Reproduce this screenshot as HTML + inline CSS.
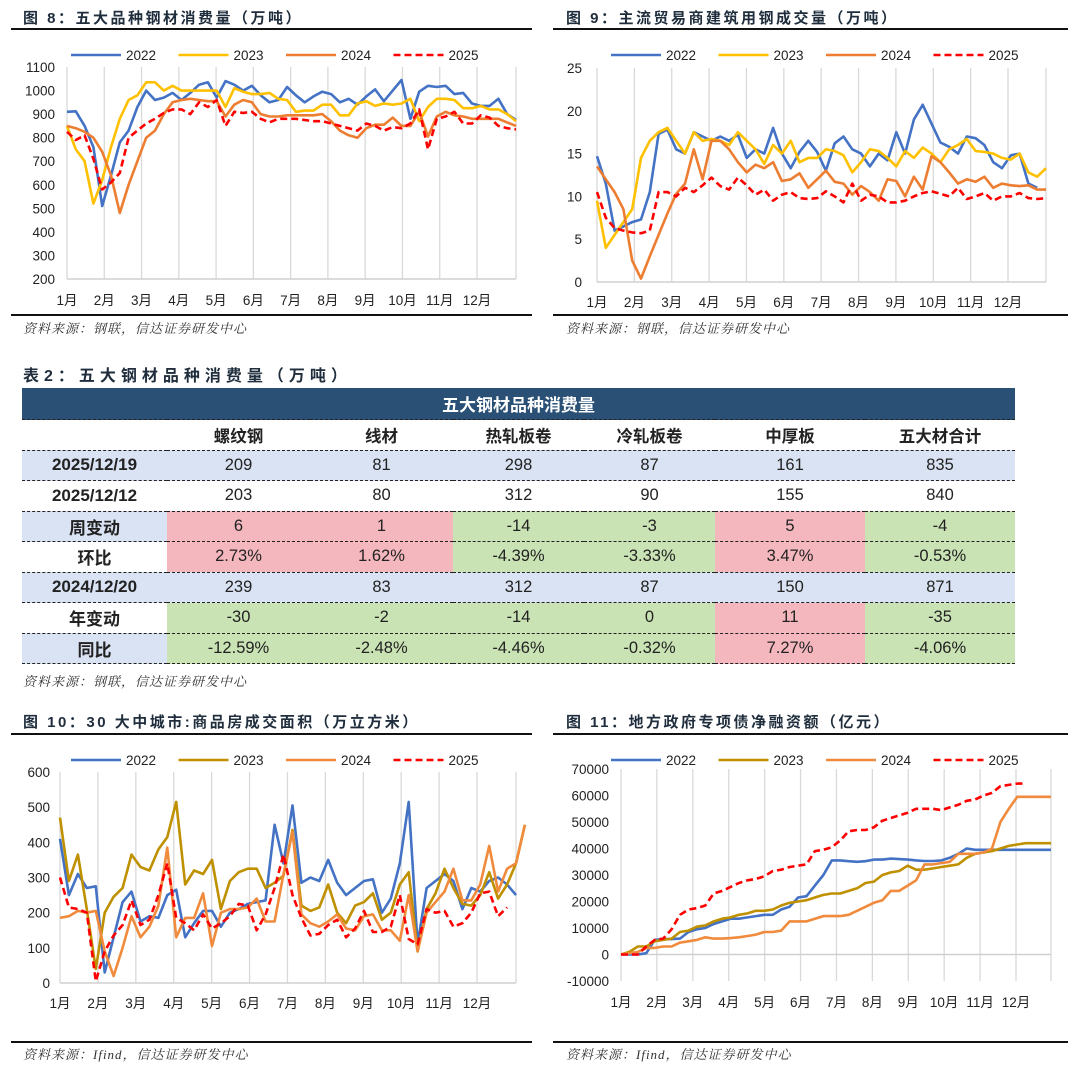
<!DOCTYPE html>
<html><head><meta charset="utf-8">
<style>
body{margin:0;background:#fff;width:1080px;height:1067px;position:relative;overflow:hidden;font-family:"Liberation Sans","Noto Sans CJK SC",sans-serif;color:#222}
.t{position:absolute;font-weight:bold;font-size:15px;letter-spacing:2.5px;color:#1f2d3d;white-space:nowrap;font-family:"Liberation Sans","Noto Sans CJK SC",sans-serif}
.src{position:absolute;font-style:italic;font-size:13px;letter-spacing:1px;color:#333;white-space:nowrap;font-family:"Liberation Serif","Noto Serif CJK SC",serif}
.hl{position:absolute;height:2px;background:#111}
table{position:absolute;left:22px;top:388px;border-collapse:collapse;font-family:"Liberation Sans","Noto Sans CJK SC",sans-serif}
td{height:29.5px;padding:0;text-align:center;font-size:16.5px;border-bottom:1.5px dashed #222}
.hd td{font-weight:bold}
.b{background:#dae3f3}.p{background:#f4b7bd}.g{background:#c9e3b4}
.lb{font-weight:bold;font-size:17px}
</style></head><body>
<div class="t" style="left:23px;top:7px">图 8：五大品种钢材消费量（万吨）</div>
<div class="hl" style="left:11px;top:28px;width:521px"></div>
<div class="hl" style="left:11px;top:314px;width:521px"></div>
<div class="src" style="left:23px;top:318px">资料来源：钢联，信达证券研发中心</div>

<div class="t" style="left:566px;top:7px">图 9：主流贸易商建筑用钢成交量（万吨）</div>
<div class="hl" style="left:553px;top:28px;width:515px"></div>
<div class="hl" style="left:553px;top:314px;width:515px"></div>
<div class="src" style="left:566px;top:318px">资料来源：钢联，信达证券研发中心</div>

<div class="t" style="left:23px;top:362px;font-size:16px;letter-spacing:5px">表2：五大钢材品种消费量（万吨）</div>
<table>
<tr><td colspan="7" style="background:#2a5075;color:#fff;font-weight:bold;font-size:17px;height:31px">五大钢材品种消费量</td></tr>
<tr class="hd"><td style="width:145px"></td><td style="width:143px">螺纹钢</td><td style="width:143px">线材</td><td style="width:131px">热轧板卷</td><td style="width:131px">冷轧板卷</td><td style="width:150px">中厚板</td><td style="width:150px">五大材合计</td></tr>
<tr class="b"><td class="lb">2025/12/19</td><td>209</td><td>81</td><td>298</td><td>87</td><td>161</td><td>835</td></tr>
<tr><td class="lb">2025/12/12</td><td>203</td><td>80</td><td>312</td><td>90</td><td>155</td><td>840</td></tr>
<tr><td class="lb b">周变动</td><td class="p">6</td><td class="p">1</td><td class="g">-14</td><td class="g">-3</td><td class="p">5</td><td class="g">-4</td></tr>
<tr><td class="lb">环比</td><td class="p">2.73%</td><td class="p">1.62%</td><td class="g">-4.39%</td><td class="g">-3.33%</td><td class="p">3.47%</td><td class="g">-0.53%</td></tr>
<tr class="b"><td class="lb">2024/12/20</td><td>239</td><td>83</td><td>312</td><td>87</td><td>150</td><td>871</td></tr>
<tr><td class="lb">年变动</td><td class="g">-30</td><td class="g">-2</td><td class="g">-14</td><td class="g">0</td><td class="p">11</td><td class="g">-35</td></tr>
<tr><td class="lb b">同比</td><td class="g">-12.59%</td><td class="g">-2.48%</td><td class="g">-4.46%</td><td class="g">-0.32%</td><td class="p">7.27%</td><td class="g">-4.06%</td></tr>
</table>
<div class="src" style="left:23px;top:671px">资料来源：钢联，信达证券研发中心</div>

<div class="t" style="left:23px;top:711px">图 10：30 大中城市:商品房成交面积（万立方米）</div>
<div class="hl" style="left:11px;top:733px;width:521px"></div>
<div class="hl" style="left:11px;top:1041px;width:521px"></div>
<div class="src" style="left:23px;top:1044px">资料来源：Ifind，信达证券研发中心</div>

<div class="t" style="left:566px;top:711px">图 11：地方政府专项债净融资额（亿元）</div>
<div class="hl" style="left:553px;top:733px;width:515px"></div>
<div class="hl" style="left:553px;top:1041px;width:515px"></div>
<div class="src" style="left:566px;top:1044px">资料来源：Ifind，信达证券研发中心</div>

<svg id="cv" width="1080" height="1067" style="position:absolute;left:0;top:0"></svg>
<script>
const months=["1月","2月","3月","4月","5月","6月","7月","8月","9月","10月","11月","12月"];
const years=["2022","2023","2024","2025"];
const f8Ticks=[200,300,400,500,600,700,800,900,1000,1100];
const f8_2022=[910,912,850,760,510,640,780,830,930,1000,960,970,990,960,990,1025,1035,970,1040,1025,1000,1020,980,950,960,1015,980,950,975,995,985,950,965,940,975,1005,955,1000,1045,880,995,1020,1015,1020,985,990,945,935,935,965,900,875];
const f8_2023=[850,750,700,520,620,760,880,960,980,1035,1035,1000,1020,1000,1000,1000,1000,1000,930,1010,995,985,985,990,965,960,910,915,915,940,940,895,895,945,955,935,945,940,945,965,870,930,965,965,960,925,925,935,920,920,900,870];
const f8_2024=[850,840,825,800,740,640,480,600,700,800,830,900,950,960,965,960,955,955,890,940,960,950,900,890,890,895,895,895,895,900,870,830,810,800,840,855,855,885,850,850,910,805,890,910,895,890,880,880,880,880,865,850];
const f8_2025=[825,790,810,710,580,610,650,800,830,860,880,905,920,920,900,950,930,960,850,910,905,910,880,865,880,880,880,875,870,870,860,850,840,830,860,850,830,845,840,860,920,750,880,890,910,860,860,895,885,850,840,835];
const f9Ticks=[0,5,10,15,20,25];
const f9_2022=[14.7,11.5,6,6.5,7,7.3,10.5,17.3,17.8,15.5,15,17.5,17,16.5,17,16.5,17.2,14.5,15.5,15,18,15,13.3,15.2,16.5,15.2,13,16.2,17,15.5,15,13.5,15,14.2,17.5,15,19,20.7,18.5,16.3,15.8,15,17,16.8,16,14,13.3,14.8,15,11.5,11];
const f9_2023=[9.5,4,5.5,7,8.5,14.5,16.5,17.5,18,16.5,15,17.5,16.5,16.7,16.5,16,17.5,16.5,15.5,13.8,16,15,16.5,14,14.5,14.5,15.5,15.3,14.8,12.8,14,15.5,15.3,14.5,13.5,15.3,14.5,15.7,15,14,15.5,16,16.7,15.3,15.2,15,14.5,14.3,15,12.8,12.3,13.3];
const f9_2024=[13.5,12,10.5,8.5,2.5,0.4,3,5.5,8,10.3,11.5,15.5,12,16.5,16.5,15.5,14,12.8,13.7,13.3,14,11.8,12,12.7,11,12,13,11.7,11.5,10.2,11.2,10.5,9.5,12,11.8,10,12.3,10.8,14.7,14,12.8,11.5,12,11.7,12.3,11,11.5,11.3,11.2,11.3,10.8,10.8];
const f9_2025=[10.5,7.5,6.3,6,5.8,5.7,6,10.5,10.5,10,11,10.5,11.3,12.2,11.2,10.8,12.2,11.3,10.2,10.8,9.5,10.2,10.5,9.8,9.7,9.8,10.6,10,9.3,11.5,9.5,10.2,10,9.3,9.3,9.5,10,10.4,10.6,10.3,10,11,9.7,10,10.4,9.5,10,10,10.4,9.8,9.7,9.8];
const f10Ticks=[0,100,200,300,400,500,600];
const f10_2022=[410,250,310,270,275,30,130,230,260,175,190,185,250,265,130,170,205,205,160,200,210,225,230,235,450,340,505,285,300,290,350,285,250,270,290,295,200,240,340,515,110,270,290,310,290,210,270,260,290,300,280,250];
const f10_2023=[470,290,365,210,40,200,245,270,365,330,320,380,415,515,280,320,310,350,210,290,315,325,325,270,285,305,435,220,205,215,280,200,170,220,230,255,180,200,280,315,90,210,255,325,270,225,220,250,315,240,280,340,450];
const f10_2024=[185,190,205,200,205,90,20,100,190,130,160,220,385,130,185,185,255,105,200,210,210,215,240,175,175,310,430,195,170,160,175,195,155,150,190,195,150,150,120,250,90,200,230,260,325,235,235,280,390,260,325,340,450];
const f10_2025=[300,215,210,200,5,90,135,165,235,165,180,250,340,185,170,150,195,155,170,190,225,220,150,195,270,365,250,185,135,140,165,180,130,155,205,145,145,160,250,125,110,210,200,205,160,170,200,255,260,190,215];
const f11Ticks=[-10000,0,10000,20000,30000,40000,50000,60000,70000];
const f11_2022=[0,0,0,500,5500,5800,5800,6000,8500,9500,10000,11500,12500,13500,13500,14000,14500,15000,15000,17000,18000,21500,22000,26000,30000,35500,35500,35200,35000,35200,35800,35800,36200,36000,35800,35500,35300,35300,35500,36500,38000,40000,39500,39500,39500,39500,39500,39500,39500,39500,39500,39500];
const f11_2023=[0,1000,3000,3000,5000,5500,6000,8500,9000,10500,11000,12500,13500,14000,15000,15500,16500,16500,17000,18500,19500,20000,20500,21500,22500,23000,23000,24000,25000,27000,27500,30000,31000,31500,33500,32000,32000,32500,33000,33500,34000,36500,38000,38500,39000,40000,41000,41500,42000,42000,42000,42000];
const f11_2024=[0,500,1000,2500,2500,3000,3000,4500,5000,5500,6500,6000,6000,6200,6500,7000,7500,8500,8500,9000,12500,12500,12500,13500,14500,14500,14500,15000,16500,18000,19500,20500,24000,24000,26000,28000,34000,34000,34500,35000,38000,38000,38000,38500,40000,50000,55000,59500,59500,59500,59500,59500];
const f11_2025=[0,0,0,3000,5500,6000,9500,15000,17000,17500,18500,23000,24000,25500,27000,28000,28500,29500,31500,32000,33000,33500,34000,39000,39500,40500,43000,46500,47000,47000,48000,50500,51500,52500,53500,55000,55000,55000,54500,55500,56500,58000,58500,60000,61000,63500,64000,64500,64500];

const NS="http://www.w3.org/2000/svg";
const svg=document.getElementById('cv');
function mk(tag,attrs){const e=document.createElementNS(NS,tag);for(const k in attrs)e.setAttribute(k,attrs[k]);svg.appendChild(e);return e;}

function chart(id,c,ticks,series,colors){
  const yS=v=>c.yb+(v-c.ymin)/(c.ymax-c.ymin)*(c.yt-c.yb);
  const mx=i=>c.x0+i*(c.x12-c.x0)/11;
  const wx=i=>c.x0+i*(c.xr-c.x0)/51;
  for(let i=0;i<=12;i++){
    const x=i<12?mx(i):c.xr;
    const g=mk('line',{x1:x,x2:x,y1:c.yt,y2:c.yb,stroke:'#d9d9d9','stroke-width':1.3});
    
    
  }
  const base=mk('line',{x1:c.x0,x2:c.xr,y1:yS(c.base),y2:yS(c.base),stroke:'#d0d0d0','stroke-width':1.5});
  
  
  ticks.forEach(v=>{
    const t=mk('text',{x:c.tx,y:yS(v)+5,'text-anchor':'end','font-size':13.5,fill:'#222','font-family':'Liberation Sans, sans-serif'});
    t.textContent=v;
    
    
  });
  months.forEach((m,i)=>{
    const t=mk('text',{x:mx(i),y:c.ly,'text-anchor':'middle','font-size':13.5,fill:'#222','font-family':'Liberation Sans, Noto Sans CJK SC, sans-serif'});
    t.textContent=m;
    
    
  });
  series.forEach((s,k)=>{
    const pts=s.map((v,i)=>wx(i).toFixed(1)+','+yS(v).toFixed(1)).join(' ');
    const p=mk('polyline',{points:pts,fill:'none',stroke:colors[k],'stroke-width':2.6,'stroke-linejoin':'round'});
    if(k===3)p.setAttribute('stroke-dasharray','7,4');
    
    
    const lx=c.legx+k*107.5;
    const l=mk('line',{x1:lx,x2:lx+50,y1:c.legy,y2:c.legy,stroke:colors[k],'stroke-width':2.6});
    if(k===3)l.setAttribute('stroke-dasharray','7,4');
    
    
    const lt=mk('text',{x:lx+55,y:c.legy+5,'font-size':13.5,fill:'#222','font-family':'Liberation Sans, sans-serif'});
    lt.textContent=years[k];
    
    
  });
}
const C1=['#4472c4','#ffc000','#ed7d31','#ff0000'];
const C2=['#4472c4','#bf9000','#f08a3c','#ff0000'];
chart('fig8',{x0:67,x12:477,xr:516,yt:67,yb:279,ymin:200,ymax:1100,base:200,tx:55,ly:305,legx:71,legy:55},f8Ticks,[f8_2022,f8_2023,f8_2024,f8_2025],C1);
chart('fig9',{x0:597,x12:1008,xr:1046,yt:68,yb:282,ymin:0,ymax:25,base:0,tx:582,ly:307,legx:611,legy:55},f9Ticks,[f9_2022,f9_2023,f9_2024,f9_2025],C1);
chart('fig10',{x0:60,x12:477,xr:516,yt:772,yb:983,ymin:0,ymax:600,base:0,tx:50,ly:1008,legx:71,legy:760},f10Ticks,[f10_2022,f10_2023,f10_2024,f10_2025],C2);
chart('fig11',{x0:621,x12:1016,xr:1051,yt:769,yb:981,ymin:-10000,ymax:70000,base:0,tx:609,ly:1007,legx:611,legy:760},f11Ticks,[f11_2022,f11_2023,f11_2024,f11_2025],C2);
</script>
</body></html>
